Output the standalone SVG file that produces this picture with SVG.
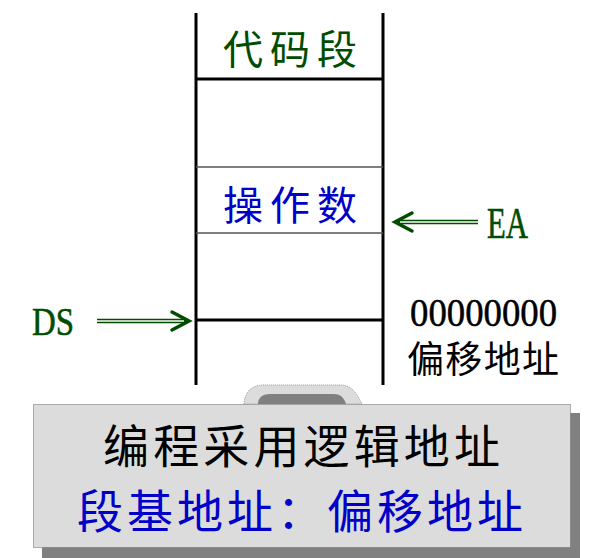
<svg xmlns="http://www.w3.org/2000/svg" width="613" height="558" viewBox="0 0 613 558">
<style>
.cjk{font-family:"Noto Sans CJK SC","Noto Sans CJK JP",sans-serif;}
.lat{font-family:"Liberation Serif","DejaVu Serif",serif;}
.green{fill:#004d00;}
.blue{fill:#0000c8;}
.blk{fill:#000;}
.thick{stroke:#000;stroke-width:3;fill:none;}
.thin{stroke:#555;stroke-width:1.5;fill:none;}
.shaft{stroke:#004d00;stroke-width:4.5;fill:none;}
.shaftin{stroke:#fff;stroke-width:1.5;fill:none;}
.head{stroke:#004d00;stroke-width:3.5;fill:none;stroke-linecap:round;stroke-linejoin:miter;}
</style>
<rect width="613" height="558" fill="#fff"/>
<g id="memory">
<line class="thick" x1="196" y1="13" x2="196" y2="385"/>
<line class="thick" x1="383" y1="13" x2="383" y2="385"/>
<line class="thick" x1="196" y1="79" x2="383" y2="79"/>
<line class="thin" x1="196" y1="167" x2="383" y2="167"/>
<line class="thin" x1="196" y1="233" x2="383" y2="233"/>
<line class="thick" x1="196" y1="320" x2="383" y2="320"/>
</g>
<g id="code-seg"><text class="cjk green" x="290" y="64" font-size="40" text-anchor="middle" textLength="134" lengthAdjust="spacing">代码段</text></g>
<g id="operand"><text class="cjk blue" x="290" y="220" font-size="40" text-anchor="middle" textLength="134" lengthAdjust="spacing">操作数</text></g>
<g id="ea"><text class="lat green" x="487" y="238" font-size="44" stroke="#004d00" stroke-width="0.6" textLength="41" lengthAdjust="spacingAndGlyphs">EA</text></g>
<g id="ds"><text class="lat green" x="32" y="335" font-size="41" stroke="#004d00" stroke-width="0.6" textLength="42" lengthAdjust="spacingAndGlyphs">DS</text></g>
<g id="offset"><text class="lat blk" x="410" y="326" font-size="39" stroke="#000" stroke-width="0.5" textLength="147" lengthAdjust="spacingAndGlyphs">00000000</text>
<text class="cjk blk" x="407" y="373" font-size="37" textLength="152" lengthAdjust="spacing">偏移地址</text></g>
<g id="connectors">
<line class="shaft" x1="398" y1="222" x2="478" y2="222"/>
<line class="shaftin" x1="400" y1="222" x2="478" y2="222"/>
<polyline class="head" points="412,213 395,222 412,231"/>
<line class="shaft" x1="97" y1="321" x2="186" y2="321"/>
<line class="shaftin" x1="97" y1="321" x2="184" y2="321"/>
<polyline class="head" points="172,312 189,321 172,330"/>
</g>
<g id="note">
<rect x="42" y="413" width="538" height="150" fill="#808080"/>
<path d="M244,404 C245,392 251,385 265,385 L340,385 C351,385 356,392 362,404 Z" fill="#dcdcdc" stroke="#999" stroke-width="1" stroke-dasharray="1,1"/>
<path d="M258,404 C258,398 262,394 270,394 L334,394 C341,394 344,398 346,404 Z" fill="#808080"/>
<rect x="33.5" y="404.5" width="537" height="143" fill="#dcdcdc" stroke="#666" stroke-width="1" stroke-dasharray="1,1"/>
<text class="cjk blk" x="103" y="463" font-size="46" textLength="397" lengthAdjust="spacing">编程采用逻辑地址</text>
<text class="cjk blue" x="77" y="528" font-size="46" textLength="446" lengthAdjust="spacing">段基地址：偏移地址</text>
</g>
</svg>
